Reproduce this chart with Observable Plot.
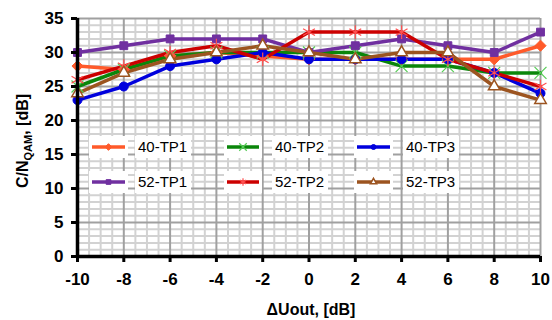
<!DOCTYPE html>
<html>
<head>
<meta charset="utf-8">
<script src="https://cdn.jsdelivr.net/npm/d3@7"></script>
<script src="https://cdn.jsdelivr.net/npm/@observablehq/plot@0.6"></script>
<style>
  body { margin: 0; background: #fff; }
  #chart { width: 552px; height: 320px; }
</style>
</head>
<body>
<div id="chart"></div>
<script>
const xValues = [-10, -8, -6, -4, -2, 0, 2, 4, 6, 8, 10];
const tp1_40 = [28, 27.5, 29.5, 30, 29.5, 29, 29, 29, 29, 29, 31];
const tp2_40 = [25, 27.5, 29.5, 30, 30, 30, 30, 28, 28, 27, 27];
const tp3_40 = [23, 25, 28, 29, 30, 29, 29, 29, 29, 27, 24];
const tp1_52 = [30, 31, 32, 32, 32, 30, 31, 32, 31, 30, 33];
const tp2_52 = [26, 28, 30, 31, 29, 33, 33, 33, 29, 27, 25];
const tp3_52 = [24, 27, 29, 30, 31, 30, 29, 30, 30, 25, 23];
const seriesNames = ["40-TP1", "40-TP2", "40-TP3", "52-TP1", "52-TP2", "52-TP3"];
const xTicks = [-10, -8, -6, -4, -2, 0, 2, 4, 6, 8, 10];
const yTicks = [0, 5, 10, 15, 20, 25, 30, 35];

const seriesValues = [tp1_40, tp2_40, tp3_40, tp1_52, tp2_52, tp3_52];
const styles = [
  {line: "#ff5a2a", symbol: "diamond2", fill: "#ff5a2a", stroke: "#ff5a2a", r: 5, sw: 1, lr: 3},
  {line: "#0a860a", symbol: "times", fill: "none", stroke: "#55cc55", r: 5.5, sw: 1.2, lr: 3.5},
  {line: "#0000dd", symbol: "circle", fill: "#0000dd", stroke: "#0000dd", r: 4.5, sw: 1, lr: 2.5},
  {line: "#7030a0", symbol: "square2", fill: "#7030a0", stroke: "#7030a0", r: 5, sw: 1, lr: 3},
  {line: "#cc0000", symbol: "asterisk", fill: "none", stroke: "#ff5050", r: 6.5, sw: 1.2, lr: 3.5},
  {line: "#9c5420", symbol: "triangle2", fill: "#fff", stroke: "#9c5420", r: 5.5, sw: 1.5, lr: 3}
];
const symMap = {diamond2: d3.symbolDiamond2, times: d3.symbolTimes, circle: d3.symbolCircle, square2: d3.symbolSquare2, asterisk: d3.symbolAsterisk, triangle2: d3.symbolTriangle2};

const data = [];
seriesNames.forEach((s, i) => xValues.forEach((x, j) => data.push({series: s, x, y: seriesValues[i][j]})));

const minorX = d3.range(-10, 10.001, 0.5).filter(v => Math.abs(v % 2) > 0.01);
const majorX = d3.range(-8, 10.001, 2);
const minorY = d3.range(1, 35.001, 1).filter(v => v % 5 !== 0);
const majorY = d3.range(5, 35.001, 5);

const marks = [
  Plot.ruleX(minorX, {stroke: "#d2d2d2", strokeWidth: 2}),
  Plot.ruleY(minorY, {stroke: "#d2d2d2", strokeWidth: 2}),
  Plot.ruleX(majorX, {stroke: "#a0a0a0", strokeWidth: 2}),
  Plot.ruleY(majorY, {stroke: "#a0a0a0", strokeWidth: 2})
];
seriesNames.forEach((s, i) => {
  const st = styles[i];
  const d = data.filter(v => v.series === s);
  marks.push(Plot.line(d, {x: "x", y: "y", stroke: st.line, strokeWidth: 3.5}));
});
seriesNames.forEach((s, i) => {
  const st = styles[i];
  const d = data.filter(v => v.series === s);
  marks.push(Plot.dot(d, {x: "x", y: "y", symbol: st.symbol, fill: st.fill, stroke: st.stroke, strokeWidth: st.sw, r: st.r}));
});
marks.push(
  Plot.ruleY([0], {stroke: "#000", strokeWidth: 3.5}),
  Plot.ruleX([-10], {stroke: "#000", strokeWidth: 3.5}),
  Plot.axisX({ticks: xTicks, tickFormat: d => String(d), tickSize: 6, tickPadding: 10, strokeWidth: 3, fontSize: 17, fontWeight: "bold", label: null}),
  Plot.axisY({ticks: yTicks, tickFormat: d => String(d), tickSize: 6, tickPadding: 8, strokeWidth: 3, fontSize: 17, fontWeight: "bold", label: null})
);

const chart = Plot.plot({
  width: 552,
  height: 320,
  marginLeft: 77,
  marginRight: 12,
  marginTop: 18,
  marginBottom: 64,
  style: {fontFamily: "'Liberation Sans', Arial, sans-serif", fontSize: "16px", color: "#000", background: "#fff"},
  x: {domain: [-10, 10]},
  y: {domain: [0, 35]},
  marks
});
document.getElementById("chart").appendChild(chart);

// Legend and axis titles overlaid in the SVG
const svg = d3.select(chart);
const leg = svg.append("g").attr("text-anchor", "start");
const cols = [{x1: 92, x2: 125, tx: 138}, {x1: 227, x2: 259, tx: 275}, {x1: 357, x2: 390, tx: 406}];
const rows = [147, 182];
seriesNames.forEach((s, i) => {
  const c = cols[i % 3], yy = rows[Math.floor(i / 3)], st = styles[i];
  leg.append("rect").attr("x", c.x1 - 3).attr("y", yy - 11).attr("width", c.x2 - c.x1 + 6).attr("height", 22).attr("fill", "#fff");
  leg.append("rect").attr("x", c.tx - 3).attr("y", yy - 11).attr("width", 56).attr("height", 22).attr("fill", "#fff");
  leg.append("line").attr("x1", c.x1).attr("x2", c.x2).attr("y1", yy).attr("y2", yy).attr("stroke", st.line).attr("stroke-width", 3.5);
  leg.append("path").attr("transform", `translate(${(c.x1 + c.x2) / 2},${yy})`)
    .attr("d", d3.symbol(symMap[st.symbol], st.lr * st.lr * Math.PI)())
    .attr("fill", st.fill).attr("stroke", st.stroke).attr("stroke-width", st.sw);
  leg.append("text").attr("x", c.tx).attr("y", yy).attr("dy", "0.35em").attr("text-anchor", "start").attr("font-size", 15).attr("fill", "#000").text(s);
});

svg.append("text").attr("x", 311).attr("y", 315).attr("text-anchor", "middle").attr("font-size", 16).attr("font-weight", "bold").attr("fill", "#000").text("ΔUout, [dB]");
const yl = svg.append("text").attr("transform", "translate(28,141) rotate(-90)").attr("text-anchor", "middle").attr("font-size", 16).attr("font-weight", "bold").attr("fill", "#000");
yl.append("tspan").text("C/N");
yl.append("tspan").attr("font-size", 11).attr("dy", 4).text("QAM");
yl.append("tspan").attr("dy", -4).text(", [dB]");
</script>
</body>
</html>
